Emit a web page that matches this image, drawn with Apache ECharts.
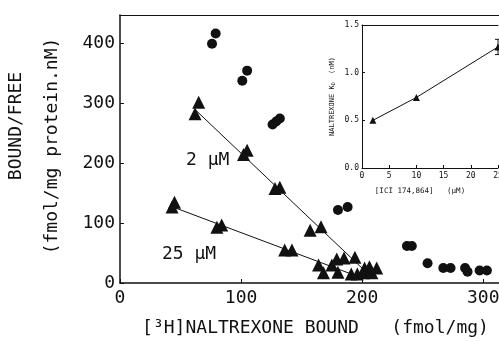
<!DOCTYPE html>
<html>
<head>
<meta charset="utf-8">
<script src="https://cdn.jsdelivr.net/npm/echarts@6/dist/echarts.min.js"></script>
<style>
  html, body { margin: 0; padding: 0; background: #fff; }
  #chart { width: 499px; height: 341px; }
</style>
</head>
<body>
<div id="chart"></div>
<script>
// main plot: Scatchard data, x = bound (fmol/mg), y = bound/free
const circles = [
  [76, 400], [79, 417], [101, 338], [105, 355],
  [126, 265], [129, 270], [132, 275],
  [180, 122], [188, 127],
  [237, 62], [241, 62], [254, 33],
  [267, 25], [273, 25], [285, 25], [287, 19], [297, 21], [303, 21]
]
const tri2uM = [
  [62, 283], [65, 302], [102, 215], [105, 222],
  [128, 158], [132, 160], [157, 88], [166, 94], [194, 43], [202, 18]
]
const tri25uM = [
  [43, 127], [45, 135], [80, 93], [84, 97],
  [136, 55], [142, 55], [164, 30], [168, 17], [175, 30],
  [179, 40], [185, 42], [180, 18], [191, 15], [196, 15],
  [201, 17], [202, 25], [206, 27], [208, 17], [212, 25]
]
const fit2uM = [[63, 288], [205, 15]]
const fit25uM = [[45, 126], [195, 12]]
const xTicks = [0, 100, 200, 300]
const yTicks = [0, 100, 200, 300, 400]

// inset: Kd vs antagonist concentration
const insetPts = [[2, 0.5], [10, 0.74], [25, 1.27]]
const insetErr = [[25, 1.19, 1.35]]
const insetXTicks = [0, 5, 10, 15, 20, 25]
const insetYTicks = [0, 0.5, 1.0, 1.5]

const mono = '"DejaVu Sans Mono", monospace'
const ink = '#111'
const solid = { color: ink, opacity: 1 }

const chart = echarts.init(document.getElementById('chart'))

chart.setOption({
  backgroundColor: '#fff',
  animation: false,
  grid: [
    { left: 120, top: 15, right: 0, bottom: 58, outerBoundsMode: 'none', containLabel: false },
    { left: 362, top: 25, width: 136, height: 143, outerBoundsMode: 'none', containLabel: false }
  ],
  xAxis: [
    {
      gridIndex: 0, type: 'value', min: 0, max: 313,
      axisLine: { lineStyle: { color: ink, width: 1.5 } },
      axisTick: { inside: true, length: 4, customValues: xTicks, lineStyle: { color: ink } },
      axisLabel: { customValues: xTicks, color: ink, fontFamily: mono, fontSize: 18, margin: 6,
        formatter: v => String(v) },
      splitLine: { show: false },
      name: '[³H]NALTREXONE BOUND   (fmol/mg)', nameLocation: 'middle', nameGap: 36,
      nameTextStyle: { color: ink, fontFamily: mono, fontSize: 18, padding: [0, 0, 0, 12] }
    },
    {
      gridIndex: 0, type: 'value', position: 'top', min: 0, max: 313,
      axisLine: { show: true, lineStyle: { color: ink, width: 1.2 } },
      axisTick: { show: false }, axisLabel: { show: false }, splitLine: { show: false }
    },
    {
      gridIndex: 1, type: 'value', min: 0, max: 25,
      axisLine: { lineStyle: { color: ink, width: 1 } },
      axisTick: { inside: true, length: 3, customValues: insetXTicks, lineStyle: { color: ink } },
      axisLabel: { customValues: insetXTicks, color: ink, fontFamily: mono, fontSize: 8, margin: 4 },
      splitLine: { show: false },
      name: '[ICI 174,864]   (µM)', nameLocation: 'middle', nameGap: 19,
      nameTextStyle: { color: ink, fontFamily: mono, fontSize: 7.5, padding: [0, 0, 0, -20] }
    },
    {
      gridIndex: 1, type: 'value', position: 'top', min: 0, max: 25,
      axisLine: { show: true, lineStyle: { color: ink, width: 1 } },
      axisTick: { show: false }, axisLabel: { show: false }, splitLine: { show: false }
    }
  ],
  yAxis: [
    {
      gridIndex: 0, type: 'value', min: 0, max: 448,
      axisLine: { show: true, lineStyle: { color: ink, width: 1.5 } },
      axisTick: { show: true, inside: true, length: 4, customValues: yTicks, lineStyle: { color: ink } },
      axisLabel: { customValues: yTicks, color: ink, fontFamily: mono, fontSize: 18, margin: 5 },
      splitLine: { show: false }
    },
    {
      gridIndex: 1, type: 'value', min: 0, max: 1.5,
      axisLine: { show: true, lineStyle: { color: ink, width: 1 } },
      axisTick: { show: true, inside: true, length: 3, customValues: insetYTicks, lineStyle: { color: ink } },
      axisLabel: { customValues: insetYTicks, color: ink, fontFamily: mono, fontSize: 8, margin: 3,
        formatter: v => v.toFixed(1) },
      splitLine: { show: false },
      name: '{a|NALTREXONE K}{s|D}{a|  (nM)}', nameLocation: 'middle', nameGap: 26, nameRotate: 90,
      nameTextStyle: { rich: {
        a: { color: ink, fontFamily: mono, fontSize: 7 },
        s: { color: ink, fontFamily: mono, fontSize: 5, verticalAlign: 'bottom' }
      } }
    }
  ],
  series: [
    { type: 'line', xAxisIndex: 0, yAxisIndex: 0, data: fit2uM, symbol: 'none',
      lineStyle: { color: ink, width: 1 } },
    { type: 'line', xAxisIndex: 0, yAxisIndex: 0, data: fit25uM, symbol: 'none',
      lineStyle: { color: ink, width: 1 } },
    { type: 'scatter', xAxisIndex: 0, yAxisIndex: 0, data: circles, symbol: 'circle', symbolSize: 10,
      itemStyle: solid },
    { type: 'scatter', xAxisIndex: 0, yAxisIndex: 0, data: tri2uM, symbol: 'triangle', symbolSize: 13,
      itemStyle: solid },
    { type: 'scatter', xAxisIndex: 0, yAxisIndex: 0, data: tri25uM, symbol: 'triangle', symbolSize: 13,
      itemStyle: solid },
    { type: 'line', xAxisIndex: 2, yAxisIndex: 1, data: insetPts, symbol: 'triangle', symbolSize: 7,
      lineStyle: { color: ink, width: 1 }, itemStyle: solid },
    {
      type: 'custom', xAxisIndex: 2, yAxisIndex: 1, data: insetErr,
      renderItem: (params, api) => {
        const lo = api.coord([api.value(0), api.value(1)])
        const hi = api.coord([api.value(0), api.value(2)])
        const style = { stroke: ink, lineWidth: 1 }
        return { type: 'group', children: [
          { type: 'line', shape: { x1: lo[0], y1: lo[1], x2: hi[0], y2: hi[1] }, style },
          { type: 'line', shape: { x1: lo[0] - 3, y1: lo[1], x2: lo[0] + 3, y2: lo[1] }, style },
          { type: 'line', shape: { x1: hi[0] - 3, y1: hi[1], x2: hi[0] + 3, y2: hi[1] }, style }
        ] }
      }
    }
  ],
  graphic: [
    { type: 'text', left: 186, top: 151,
      style: { text: '2 µM', fill: ink, font: '18px ' + mono } },
    { type: 'text', left: 162, top: 245,
      style: { text: '25 µM', fill: ink, font: '18px ' + mono } },
    { type: 'text', x: 16, y: 126, rotation: Math.PI / 2,
      style: { text: 'BOUND/FREE', fill: ink, font: '18px ' + mono, align: 'center', verticalAlign: 'middle' } },
    { type: 'text', x: 52, y: 146, rotation: Math.PI / 2,
      style: { text: '(fmol/mg protein.nM)', fill: ink, font: '18px ' + mono, align: 'center', verticalAlign: 'middle' } }
  ]
})
</script>
</body>
</html>
